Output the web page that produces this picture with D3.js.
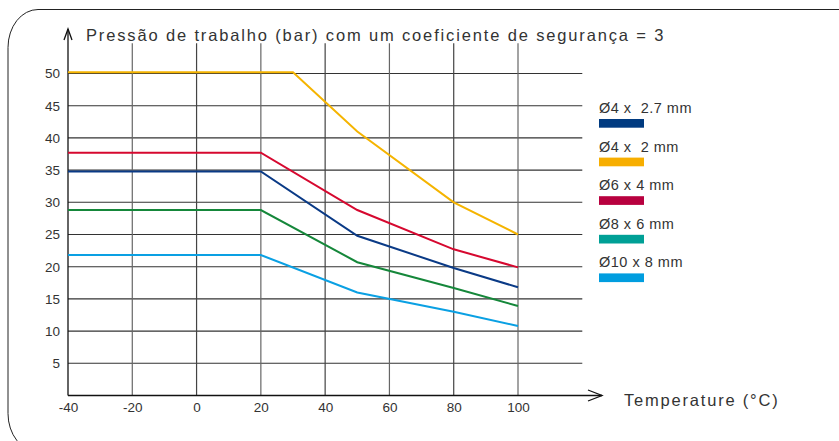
<!DOCTYPE html>
<html>
<head>
<meta charset="utf-8">
<script src="https://cdn.jsdelivr.net/npm/d3@7.9.0/dist/d3.min.js"></script>
<style>
  html, body { margin: 0; padding: 0; background: #fff; }
  svg { display: block; font-family: "Liberation Sans", Arial, sans-serif; }
</style>
</head>
<body>
<div id="viz"></div>
<script>
// temperatures (°C) where each curve has a point
const temps = [-40, 20, 50, 80, 100];
const tempsYellow = [-40, 30, 50, 80, 100];

const seriesNames = ["Ø4 x  2.7 mm", "Ø4 x  2 mm", "Ø6 x 4 mm", "Ø8 x 6 mm", "Ø10 x 8 mm"];
const lineColors = ["#0a3a86", "#f5b400", "#d6082f", "#15873a", "#0aa0e3"];
const legendColors = ["#003a80", "#f7ae00", "#b8003f", "#00a096", "#009ddf"];

const blueVals = [34.8, 34.8, 24.8, 19.8, 16.8];
const yellowVals = [50.2, 50.2, 41, 30, 25];
const redVals = [37.7, 37.7, 28.8, 22.7, 19.9];
const greenVals = [28.8, 28.8, 20.7, 16.7, 13.9];
const cyanVals = [21.8, 21.8, 16, 13, 10.8];

const xTicks = [-40, -20, 0, 20, 40, 60, 80, 100];
const yTicks = [5, 10, 15, 20, 25, 30, 35, 40, 45, 50];

const titleText = "Pressão de trabalho (bar) com um coeficiente de segurança = 3";
const xLabel = "Temperature (°C)";

const width = 839, height = 441;
const svg = d3.select("#viz").append("svg")
  .attr("width", width)
  .attr("height", height);

const x = d3.scaleLinear().domain([-40, 100]).range([68, 518]);
const y = d3.scaleLinear().domain([0, 50]).range([395.5, 73.5]);

// rounded frame
svg.append("rect")
  .attr("x", 8).attr("y", 9.5)
  .attr("width", 900).attr("height", 442)
  .attr("rx", 30).attr("ry", 38)
  .attr("fill", "none")
  .attr("stroke", "#222")
  .attr("stroke-width", 1);

// grid
const grid = svg.append("g");
grid.selectAll(".h")
  .data(yTicks)
  .join("line")
  .attr("x1", x(-40)).attr("x2", x(120))
  .attr("y1", d => y(d)).attr("y2", d => y(d))
  .attr("stroke", "#333")
  .attr("stroke-width", 1.1);

grid.selectAll(".v")
  .data(xTicks.slice(1))
  .join("line")
  .attr("x1", d => x(d)).attr("x2", d => x(d))
  .attr("y1", y(54.7)).attr("y2", y(0))
  .attr("stroke", (d, i) => i % 2 === 0 ? "#666" : "#444")
  .attr("stroke-width", 1.2);

// axes lines with open arrow heads
svg.append("line")
  .attr("x1", x(-40)).attr("x2", x(-40))
  .attr("y1", 29).attr("y2", y(0))
  .attr("stroke", "#111").attr("stroke-width", 1.3);
svg.append("path")
  .attr("d", `M${x(-40) - 4},40 L${x(-40)},29 L${x(-40) + 4},40`)
  .attr("fill", "none").attr("stroke", "#111").attr("stroke-width", 1.3);

svg.append("line")
  .attr("x1", x(-40)).attr("x2", 602)
  .attr("y1", y(0)).attr("y2", y(0))
  .attr("stroke", "#111").attr("stroke-width", 1.3);
svg.append("path")
  .attr("d", `M588,${y(0) - 5.5} L602,${y(0)} L588,${y(0) + 5.5}`)
  .attr("fill", "none").attr("stroke", "#111").attr("stroke-width", 1.3);

// tick labels via d3 axes (plain hyphen for negatives)
const yAxis = svg.append("g")
  .attr("transform", `translate(${x(-40)},0)`)
  .call(d3.axisLeft(y).tickValues(yTicks).tickSize(0).tickPadding(8).tickFormat(d => String(d)));
const xAxis = svg.append("g")
  .attr("transform", `translate(0,${y(0)})`)
  .call(d3.axisBottom(x).tickValues(xTicks).tickSize(0).tickPadding(7).tickFormat(d => String(d)));
[yAxis, xAxis].forEach(a => {
  a.select(".domain").remove();
  a.selectAll("text")
    .attr("font-family", "Liberation Sans, Arial, sans-serif")
    .attr("font-size", 13.5)
    .attr("fill", "#333");
});

// curves
const series = [
  { t: temps, v: blueVals },
  { t: tempsYellow, v: yellowVals },
  { t: temps, v: redVals },
  { t: temps, v: greenVals },
  { t: temps, v: cyanVals }
];
const line = d3.line().x(d => x(d[0])).y(d => y(d[1]));
svg.append("g").selectAll("path")
  .data(series)
  .join("path")
  .attr("d", s => line(s.t.map((t, i) => [t, s.v[i]])))
  .attr("fill", "none")
  .attr("stroke", (s, i) => lineColors[i])
  .attr("stroke-width", 2);

// title
svg.append("text")
  .attr("x", 86).attr("y", 40.5)
  .attr("font-size", 16.5)
  .attr("letter-spacing", 1.85)
  .attr("fill", "#333")
  .text(titleText);

svg.append("text")
  .attr("x", 624).attr("y", 406)
  .attr("font-size", 16.5)
  .attr("letter-spacing", 1.8)
  .attr("fill", "#333")
  .text(xLabel);

// legend
const legend = svg.append("g").attr("transform", "translate(599,119)");
const lg = legend.selectAll("g")
  .data(seriesNames)
  .join("g")
  .attr("transform", (d, i) => `translate(0,${i * 38.6})`);
lg.append("text")
  .attr("x", 0).attr("y", -6)
  .attr("font-size", 14.5)
  .attr("letter-spacing", 0.5)
  .attr("fill", "#333")
  .style("white-space", "pre")
  .text(d => d);
lg.append("rect")
  .attr("x", 0).attr("y", 0)
  .attr("width", 45).attr("height", 8.7)
  .attr("fill", (d, i) => legendColors[i]);
</script>
</body>
</html>
